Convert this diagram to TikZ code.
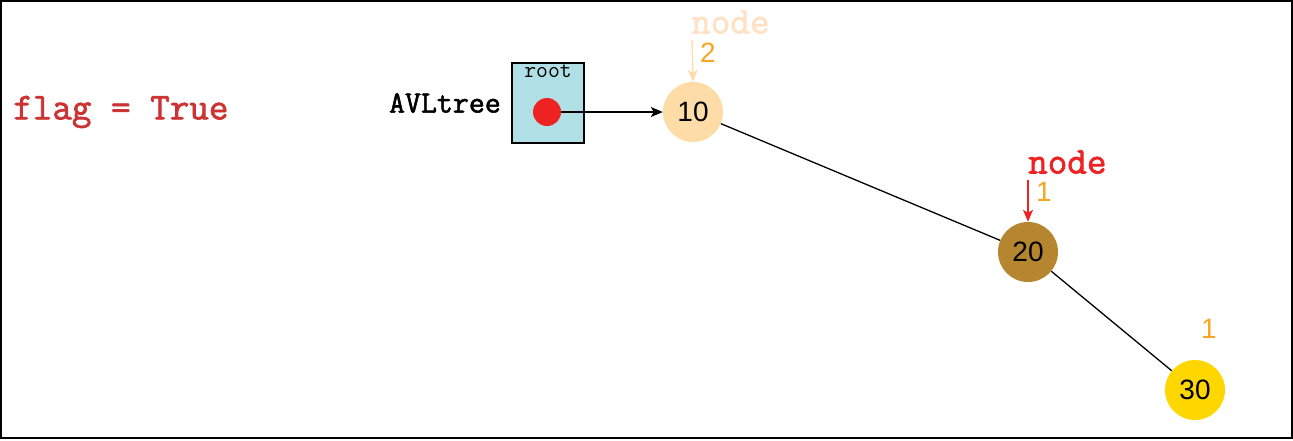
\documentclass[tikz,border=0pt]{standalone}
\usepackage{fontspec}
\setmainfont{Liberation Sans}
\setmonofont{Latin Modern Mono}[AutoFakeBold=1.8]
\usetikzlibrary{arrows.meta}
\definecolor{flagred}{HTML}{CC3333}
\definecolor{boxblue}{HTML}{B0E0E6}
\definecolor{dotred}{HTML}{EE2222}
\definecolor{peach}{HTML}{FDDCA8}
\definecolor{peachtext}{HTML}{FFE2C6}
\definecolor{bronze}{HTML}{B5862F}
\definecolor{goldfill}{HTML}{FFD700}
\definecolor{balorange}{HTML}{F5A623}
\tikzset{
  treenode/.style={circle, minimum size=60pt, inner sep=0pt, font=\fontsize{28}{28}\selectfont},
  codetext/.style={inner sep=0pt, font=\ttfamily\bfseries\fontsize{38}{38}\selectfont},
  baltext/.style={inner sep=0pt, text=balorange, font=\fontsize{28}{28}\selectfont},
  ptrarrow/.style={line width=1.3pt, -{Stealth[length=12pt,width=10pt,inset=3pt]}}
}

\begin{document}
\begin{tikzpicture}[x=1pt,y=-1pt]

\useasboundingbox (0,0) rectangle (1293,440);
\draw[line width=1.5pt] (1,1) rectangle (1292,438);

\node[codetext, text=flagred, anchor=west] (flag) at (13,112) {flag = True};

\node[draw, fill=boxblue, line width=1.5pt, minimum width=72pt, minimum height=80pt] (rootbox) at (548,103) {};
\node[inner sep=0pt, anchor=north, font=\ttfamily\fontsize{23}{23}\selectfont] (rootlbl) at (548,65) {root};
\node[inner sep=0pt, anchor=east, font=\ttfamily\bfseries\fontsize{31}{31}\selectfont] (avl) at (501,103) {AVLtree};
\node[circle, fill=dotred, minimum size=28pt, inner sep=0pt] (dot) at (547,112) {};

\node[treenode, fill=peach] (n10) at (693,112) {10};
\node[treenode, fill=bronze] (n20) at (1028,252) {20};
\node[treenode, fill=goldfill] (n30) at (1195,390) {30};

\draw[line width=1.3pt] (n10) -- (n20);
\draw[line width=1.3pt] (n20) -- (n30);
\draw[ptrarrow] (dot.east) -- (n10.west);

\node[codetext, text=peachtext, anchor=west] (ptr10) at (691,22) {node};
\coordinate (ptr10tail) at (692,40);
\draw[ptrarrow, peach] (ptr10tail) -- (n10.north);
\node[baltext] (bal10) at (708,53) {2};

\node[codetext, text=dotred, anchor=west] (ptr20) at (1028,162) {node};
\coordinate (ptr20tail) at (1028,180);
\draw[ptrarrow, dotred] (ptr20tail) -- (n20.north);
\node[baltext] (bal20) at (1044,192) {1};

\node[baltext] (bal30) at (1209,329) {1};

\end{tikzpicture}
\end{document}
